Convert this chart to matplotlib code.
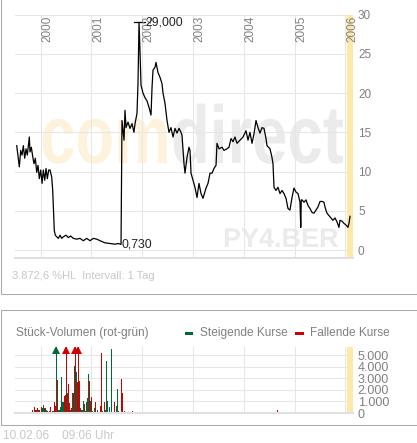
import numpy as np
import matplotlib.pyplot as plt
from matplotlib.patches import Rectangle, PathPatch
from matplotlib.textpath import TextPath
from matplotlib.font_manager import FontProperties
from matplotlib.transforms import Affine2D

plt.rcParams['font.family'] = ['Liberation Sans', 'DejaVu Sans']

W, H, DPI = 417, 443, 100

# price, decimal year / EUR
price_t = [1999.532, 1999.563, 1999.583, 1999.610, 1999.636, 1999.662, 1999.689, 1999.715,
           1999.740, 1999.780, 1999.793, 1999.819, 1999.847, 1999.872, 1999.898, 1999.925,
           1999.951, 1999.976, 2000.004, 2000.030, 2000.055, 2000.083, 2000.108, 2000.134,
           2000.161, 2000.187, 2000.220, 2000.240, 2000.252, 2000.271, 2000.291, 2000.319,
           2000.350, 2000.384, 2000.417, 2000.449, 2000.502, 2000.547, 2000.594, 2000.645,
           2000.712, 2000.777, 2000.842, 2000.909, 2000.974, 2001.039, 2001.106, 2001.171,
           2001.269, 2001.367, 2001.466, 2001.531, 2001.584, 2001.603, 2001.643, 2001.662,
           2001.682, 2001.721, 2001.761, 2001.800, 2001.839, 2001.859, 2001.898, 2001.918,
           2001.938, 2001.957, 2001.977, 2002.016, 2002.056, 2002.095, 2002.134, 2002.174,
           2002.194, 2002.213, 2002.253, 2002.272, 2002.312, 2002.351, 2002.390, 2002.410,
           2002.449, 2002.489, 2002.528, 2002.567, 2002.607, 2002.646, 2002.685, 2002.725,
           2002.764, 2002.784, 2002.823, 2002.843, 2002.882, 2002.921, 2002.941, 2002.961,
           2003.000, 2003.039, 2003.079, 2003.118, 2003.158, 2003.197, 2003.256, 2003.295,
           2003.335, 2003.374, 2003.413, 2003.453, 2003.472, 2003.512, 2003.571, 2003.610,
           2003.669, 2003.708, 2003.748, 2003.787, 2003.826, 2003.866, 2003.925, 2003.984,
           2004.043, 2004.082, 2004.121, 2004.161, 2004.200, 2004.240, 2004.279, 2004.318,
           2004.358, 2004.397, 2004.436, 2004.456, 2004.515, 2004.554, 2004.574, 2004.594,
           2004.633, 2004.672, 2004.712, 2004.751, 2004.790, 2004.830, 2004.869, 2004.908,
           2004.948, 2004.987, 2005.026, 2005.066, 2005.105, 2005.120, 2005.130, 2005.144,
           2005.184, 2005.223, 2005.262, 2005.302, 2005.341, 2005.380, 2005.420, 2005.459,
           2005.499, 2005.538, 2005.577, 2005.597, 2005.636, 2005.676, 2005.715, 2005.754,
           2005.794, 2005.833, 2005.872, 2005.892, 2005.931, 2005.971, 2006.010, 2006.049,
           2006.069, 2006.089]
price_v = [13.3, 11.7, 10.6, 12.7, 12.1, 13.3, 11.7, 12.9,
           12.1, 14.4, 12.5, 13.1, 11.9, 11.0, 11.7, 9.9,
           10.8, 9.1, 10.2, 8.5, 10.2, 8.9, 10.4, 9.1,
           10.2, 10.2, 9.3, 7.6, 5.5, 2.5, 1.9, 1.7,
           1.5, 1.9, 1.5, 1.7, 1.9, 1.6, 1.8, 1.5,
           1.4, 1.5, 1.2, 1.5, 1.2, 1.5, 1.4, 1.2,
           0.93, 0.85, 0.76, 0.85, 0.73, 16.5, 14.0, 17.8,
           15.6, 16.3, 15.5, 16.1, 15.0, 16.1, 17.4, 21.2,
           29.0, 25.4, 21.0, 20.0, 19.4, 19.0, 18.2, 17.2,
           20.7, 22.9, 23.3, 23.9, 22.6, 22.0, 21.2, 20.0,
           18.7, 16.5, 15.0, 15.6, 14.4, 15.5, 14.9, 15.5,
           15.0, 14.6, 11.0, 9.8, 11.8, 13.1, 12.7, 9.8,
           8.9, 8.0, 6.7, 8.5, 7.2, 6.6, 7.9, 8.5,
           9.8, 9.8, 10.4, 10.8, 13.6, 12.9, 13.1, 12.7,
           12.9, 13.1, 14.2, 13.8, 14.4, 13.6, 14.0, 14.4,
           15.2, 14.0, 15.0, 13.6, 14.8, 16.5, 15.6, 14.9,
           15.6, 15.5, 14.2, 13.3, 12.9, 11.8, 11.0, 8.0,
           7.6, 8.0, 7.2, 7.6, 7.2, 6.6, 5.3, 5.1,
           6.7, 7.9, 7.4, 7.2, 6.1, 2.9, 6.4, 6.4,
           6.1, 6.4, 5.7, 5.3, 4.8, 4.7, 5.1, 5.5,
           6.2, 6.2, 6.1, 5.5, 4.7, 4.4, 4.1, 3.8,
           4.1, 3.6, 2.9, 3.8, 3.7, 3.4, 3.2, 2.9,
           3.4, 4.3]
max_t, max_v = 2001.938, 29.0
min_t, min_v = 2001.584, 0.73
max_label, min_label = '29,000', '0,730'

years = [2000, 2001, 2002, 2003, 2004, 2005, 2006]
price_ticks = [0, 5, 10, 15, 20, 25, 30]

# volume bars (week, pieces, rising?)
vol_t = [2000 + (p - 40.5) / 50.83 for p in
         [32, 34, 35, 36, 37, 38, 39, 41, 42, 43, 44, 45, 46, 47, 49, 50, 52, 53, 54, 55,
          56, 57, 58, 59, 60, 61, 62, 63, 64, 65, 66, 67, 68, 69, 70, 71, 72, 73, 74, 75,
          76, 77, 78, 79, 80, 81, 82, 83, 84, 85, 86, 87, 88, 89, 90, 91, 92, 94, 95, 97,
          100, 101, 102, 104, 105, 106, 107, 109, 111, 114, 116, 117, 118, 121, 122, 124,
          132, 140, 146, 152, 155, 158, 261, 277]]
vol_v = [290, 500, 290, 240, 440, 290, 290, 500, 440, 680, 440, 440, 290, 150, 210, 500, 150, 150, 940, 590,
         6500, 2850, 290, 240, 500, 3090, 940, 940, 1470, 1560, 6500, 1760, 2500, 880, 290, 440, 1760, 1760, 4030, 6500,
         3530, 2650, 6500, 2800, 440, 290, 290, 1030, 740, 150, 940, 1320, 3380, 2800, 1030, 1380, 150, 440, 940, 290,
         590, 5200, 150, 940, 240, 4470, 1030, 500, 5530, 940, 590, 2060, 150, 2940, 1760, 150,
         150, 100, 100, 60, 100, 100, 100, 260]
vol_up = [0, 0, 1, 0, 0, 1, 0, 0, 1, 1, 0, 1, 1, 1, 0, 0, 0, 1, 0, 0,
          1, 0, 1, 0, 1, 1, 1, 1, 0, 0, 0, 1, 0, 0, 1, 0, 1, 0, 1, 0,
          1, 0, 0, 0, 1, 0, 1, 1, 0, 1, 1, 1, 1, 0, 1, 0, 1, 1, 0, 1,
          0, 0, 1, 0, 1, 1, 1, 1, 1, 0, 1, 1, 0, 0, 0, 1,
          0, 1, 0, 0, 1, 0, 0, 0]
vol_ticks = [0, 1000, 2000, 3000, 4000, 5000]
vol_labels = ['0', '1.000', '2.000', '3.000', '4.000', '5.000']

green, red = '#00673a', '#cc0000'
grid_c = '#e6e6e6'
band_c = '#fde8a6'
txt_c = '#808080'
pale_c = '#c8c8c8'

x0, x1 = 1999.498, 2006.148
band0 = 2006.039

fig = plt.figure(figsize=(W / DPI, H / DPI), dpi=DPI)


def pix(x, y, w=0, h=0):
    return [x / W, 1 - (y + h) / H, w / W, h / H]


def watermark(ax, s, x, ybase, sx, sy, color):
    tp = TextPath((0, 0), s, size=1, prop=FontProperties(family='Liberation Sans', weight='bold'))
    tr = Affine2D().scale(sx / DPI, sy / DPI).translate(x / DPI, (H - ybase) / DPI) + fig.dpi_scale_trans
    ax.add_patch(PathPatch(tp, transform=tr, fc=color, lw=0, zorder=0.2))


# panel frames
fig.add_artist(Rectangle((0.5 / W, 1 - 293.5 / H), 416 / W, 300 / H, transform=fig.transFigure,
                         fill=False, ec='#aaaaaa', lw=0.75))
fig.add_artist(Rectangle((0.5 / W, 1 - 424.5 / H), 416 / W, 115 / H, transform=fig.transFigure,
                         fill=False, ec='#aaaaaa', lw=0.75))

# price chart
ax = fig.add_axes([15 / W, 1 - 258 / H, 338 / W, 243.5 / H])
watermark(ax, 'com', 40, 163, 63.5, 82, '#fdf3dc')
watermark(ax, 'direct', 171, 163, 63.5, 82, '#ebebeb')
watermark(ax, 'PY4.BER', 223, 247, 27, 27, '#ebebeb')
for v in price_ticks:
    ax.axhline(v, color=grid_c, lw=0.75, zorder=0.5)
for yr in years:
    ax.axvline(yr, color=grid_c, lw=0.75, zorder=0.5)
    ax.text(yr + 0.012, 29.8, str(yr), rotation=90, ha='left', va='top',
            fontsize=8.5, color=txt_c, zorder=3)
ax.axvspan(band0, x1, color=band_c, lw=0, zorder=0.8)
ax.plot(price_t, price_v, color='black', lw=0.9, zorder=2)
ax.plot([max_t - 0.1, max_t + 0.118], [max_v, max_v], color='black', lw=0.9, zorder=2)
ax.text(max_t + 0.118, max_v, max_label, ha='left', va='center', fontsize=8.8, color='#222222', zorder=3)
ax.text(min_t, min_v, min_label, ha='left', va='center', fontsize=8.8, color='#222222', zorder=3)
ax.set_xlim(x0, x1)
ax.set_ylim(-1, 30)
ax.set_xticks([])
ax.set_yticks(price_ticks)
ax.yaxis.tick_right()
ax.tick_params(axis='y', length=0, pad=3.6, labelsize=8.5, labelcolor=txt_c)
for s in ['left', 'right', 'top']:
    ax.spines[s].set_visible(False)
ax.spines['bottom'].set_color('#e0e0e0')
ax.spines['bottom'].set_linewidth(1.4)
ax.patch.set_alpha(0)

fig.text(12 / W, 1 - 276 / H, '3.872,6 %HL  Intervall: 1 Tag', fontsize=8, color=pale_c, va='center')

# volume chart
fig.text(16 / W, 1 - 333 / H, 'Stück-Volumen (rot-grün)', fontsize=8.6, color=txt_c, va='center')
fig.add_artist(Rectangle((185 / W, 1 - 334.5 / H), 8 / W, 3 / H, transform=fig.transFigure, color=green, lw=0))
fig.text(200 / W, 1 - 333 / H, 'Steigende Kurse', fontsize=8.6, color=txt_c, va='center')
fig.add_artist(Rectangle((295 / W, 1 - 334.5 / H), 9 / W, 3 / H, transform=fig.transFigure, color=red, lw=0))
fig.text(310 / W, 1 - 333 / H, 'Fallende Kurse', fontsize=8.6, color=txt_c, va='center')

av = fig.add_axes([15 / W, 1 - 413 / H, 338 / W, 66 / H])
vtop = 5700
for v in vol_ticks[1:]:
    av.axhline(v, color=grid_c, lw=0.75, zorder=0.5)
for yr in years:
    av.axvline(yr, color=grid_c, lw=0.75, zorder=0.5)
av.axvspan(band0, x1, color=band_c, lw=0, zorder=0.8)
cols = [green if u else red for u in vol_up]
av.bar(vol_t, vol_v, width=0.0197, color=cols, lw=0, zorder=2)
for t, v, c in zip(vol_t, vol_v, cols):
    if v > vtop:
        av.plot(t, 5420, marker='^', ms=5.5, color=c, mew=0, zorder=3)
av.set_xlim(x0, x1)
av.set_ylim(0, vtop)
av.set_xticks([])
av.set_yticks(vol_ticks)
av.set_yticklabels(vol_labels)
av.yaxis.tick_right()
av.tick_params(axis='y', length=0, pad=3.3, labelsize=9, labelcolor=txt_c)
for s in ['left', 'right', 'top']:
    av.spines[s].set_visible(False)
av.spines['bottom'].set_color('#e0e0e0')
av.spines['bottom'].set_linewidth(1.5)
av.patch.set_alpha(0)

fig.text(3 / W, 1 - 436 / H, '10.02.06    09:06 Uhr', fontsize=8.5, color=pale_c, va='center')

fig.savefig('out.png', dpi=DPI, facecolor='white')
